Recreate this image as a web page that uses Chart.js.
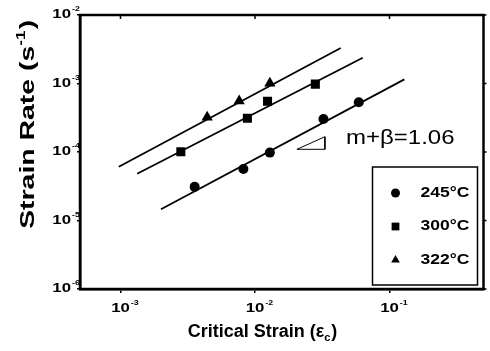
<!DOCTYPE html>
<html lang="en">
<head>
    <meta charset="UTF-8">
    <title>Strain Rate vs Critical Strain</title>
    <script src="https://cdn.jsdelivr.net/npm/chart.js@4.4.1/dist/chart.umd.min.js"></script>
    <style>
        body {
            margin: 0;
            padding: 0;
            background: #ffffff;
        }
        canvas {
            display: block;
        }
    </style>
</head>
<body>
    <canvas id="strainChart" width="490" height="351"></canvas>

    <script>
        // Measured points: critical strain vs strain rate (1/s)
        const temps = ['245°C', '300°C', '322°C'];
        const strain245 = [3.56e-3, 8.2e-3, 1.29e-2, 3.23e-2, 5.91e-2];
        const rate245 = [3.1e-5, 5.65e-5, 9.8e-5, 3.03e-4, 5.32e-4];
        const strain300 = [2.81e-3, 8.78e-3, 1.24e-2, 2.81e-2];
        const rate300 = [1.01e-4, 3.1e-4, 5.5e-4, 9.8e-4];
        const strain322 = [4.41e-3, 7.63e-3, 1.29e-2];
        const rate322 = [3.21e-4, 5.56e-4, 1.01e-3];

        // Fitted lines (end points)
        const fitStrain245 = [2.0e-3, 0.129];
        const fitRate245 = [1.46e-5, 1.15e-3];
        const fitStrain300 = [1.33e-3, 6.33e-2];
        const fitRate300 = [4.82e-5, 2.38e-3];
        const fitStrain322 = [9.72e-4, 4.34e-2];
        const fitRate322 = [6.1e-5, 3.3e-3];

        // Slope marker triangle
        const triStrain = [2.05e-2, 3.31e-2, 3.31e-2, 2.05e-2];
        const triRate = [1.095e-4, 1.67e-4, 1.095e-4, 1.095e-4];
        const slopeText = 'm+β=1.06';
        const slopeAt = [0.0475, 1.31e-4];

        // Axes
        const xTicks = [1e-3, 1e-2, 1e-1];
        const xTickExp = ['-3', '-2', '-1'];
        const yTicks = [1e-6, 1e-5, 1e-4, 1e-3, 1e-2];
        const yTickExp = ['-6', '-5', '-4', '-3', '-2'];
        const xRange = [5e-4, 0.5];
        const yRange = [1e-6, 1e-2];

        const FONT = "'Liberation Sans', Arial, sans-serif";
        const pts = (xs, ys) => xs.map((x, i) => ({ x: x, y: ys[i] }));

        // text squeezed/stretched horizontally
        function drawText(ctx, text, x, y, sx, align) {
            ctx.save();
            ctx.translate(x, y);
            ctx.scale(sx, 1);
            ctx.textAlign = align;
            ctx.fillText(text, 0, 0);
            ctx.restore();
        }

        // "10" with a raised exponent
        function drawPow(ctx, x, y, exp, anchor) {
            const sx = 1.4;
            ctx.font = 'bold 12px ' + FONT;
            ctx.textBaseline = 'middle';
            const w = ctx.measureText('10').width * sx;
            let left = anchor === 'right' ? x - w : x - w / 2;
            drawText(ctx, '10', left, y, sx, 'left');
            ctx.font = 'bold 8px ' + FONT;
            drawText(ctx, exp, left + w + 1, y - 6, 1.1, 'left');
        }

        const framePlugin = {
            id: 'frame',
            afterDraw(chart) {
                const ctx = chart.ctx;
                const a = chart.chartArea;
                const xs = chart.scales.x;
                const ys = chart.scales.y;
                ctx.save();
                ctx.strokeStyle = '#000';
                ctx.fillStyle = '#000';

                // box
                ctx.lineWidth = 2.5;
                ctx.strokeRect(a.left, a.top, a.right - a.left, a.bottom - a.top);

                // mirrored ticks on top and right
                ctx.lineWidth = 1.5;
                ctx.beginPath();
                xTicks.forEach(v => {
                    const px = xs.getPixelForValue(v);
                    ctx.moveTo(px, a.top);
                    ctx.lineTo(px, a.top + 4);
                });
                yTicks.forEach(v => {
                    const py = ys.getPixelForValue(v);
                    ctx.moveTo(a.right, py);
                    ctx.lineTo(a.right + 3, py);
                });
                ctx.stroke();

                // tick labels
                xTicks.forEach((v, i) => drawPow(ctx, xs.getPixelForValue(v), a.bottom + 20, xTickExp[i], 'center'));
                yTicks.forEach((v, i) => drawPow(ctx, a.left - 9, ys.getPixelForValue(v), yTickExp[i], 'right'));

                // x title
                ctx.textBaseline = 'alphabetic';
                ctx.font = 'bold 18px ' + FONT;
                const t1 = 'Critical Strain (ε';
                const w1 = ctx.measureText(t1).width;
                ctx.font = 'bold 11px ' + FONT;
                const w2 = ctx.measureText('c').width;
                ctx.font = 'bold 18px ' + FONT;
                const w3 = ctx.measureText(')').width;
                let xl = 262 - (w1 + w2 + w3) / 2;
                ctx.fillText(t1, xl, 337);
                ctx.font = 'bold 11px ' + FONT;
                ctx.fillText('c', xl + w1, 341);
                ctx.font = 'bold 18px ' + FONT;
                ctx.fillText(')', xl + w1 + w2 + 1, 337);

                // y title, rotated
                ctx.save();
                ctx.translate(34, 125);
                ctx.rotate(-Math.PI / 2);
                ctx.scale(1.42, 1);
                ctx.font = 'bold 20px ' + FONT;
                const s1 = 'Strain Rate (s';
                const v1 = ctx.measureText(s1).width;
                ctx.font = 'bold 12px ' + FONT;
                const v2 = ctx.measureText('-1').width;
                ctx.font = 'bold 20px ' + FONT;
                const v3 = ctx.measureText(')').width;
                let yl = -(v1 + v2 + v3) / 2;
                ctx.fillText(s1, yl, 0);
                ctx.font = 'bold 12px ' + FONT;
                ctx.fillText('-1', yl + v1, -9);
                ctx.font = 'bold 20px ' + FONT;
                ctx.fillText(')', yl + v1 + v2 + 1, 0);
                ctx.restore();

                // slope annotation
                ctx.font = '20px ' + FONT;
                drawText(ctx, slopeText, xs.getPixelForValue(slopeAt[0]), ys.getPixelForValue(slopeAt[1]), 1.2, 'left');

                // legend box inside the plot area
                const lx = a.right - 111, ly = a.top + 152, lw = 105, lh = 118;
                ctx.lineWidth = 1.5;
                ctx.strokeRect(lx, ly, lw, lh);
                const styles = ['circle', 'rect', 'triangle'];
                const radii = [4.5, 5.5, 5];
                ctx.font = 'bold 14px ' + FONT;
                ctx.textBaseline = 'middle';
                temps.forEach((label, i) => {
                    const ry = ly + 26 + i * 33.5;
                    Chart.helpers.drawPoint(ctx, { pointStyle: styles[i], radius: radii[i], rotation: 0, borderWidth: 0 }, lx + 23, ry);
                    drawText(ctx, label, lx + 48, ry, 1.25, 'left');
                });
                ctx.restore();
            }
        };

        const markerBase = {
            backgroundColor: '#000',
            borderColor: '#000',
            borderWidth: 0,
            showLine: false
        };
        const fitBase = {
            showLine: true,
            borderColor: '#000',
            borderWidth: 1.8,
            pointRadius: 0,
            fill: false
        };

        const chartContext = document.getElementById('strainChart').getContext('2d');
        const strainChart = new Chart(chartContext, {
            type: 'scatter',
            data: {
                datasets: [
                    { ...markerBase, label: temps[0], data: pts(strain245, rate245), pointStyle: 'circle', pointRadius: 5 },
                    { ...markerBase, label: temps[1], data: pts(strain300, rate300), pointStyle: 'rect', pointRadius: 6.4 },
                    { ...markerBase, label: temps[2], data: pts(strain322, rate322), pointStyle: 'triangle', pointRadius: 6.5 },
                    { ...fitBase, label: 'fit 245', data: pts(fitStrain245, fitRate245) },
                    { ...fitBase, label: 'fit 300', data: pts(fitStrain300, fitRate300) },
                    { ...fitBase, label: 'fit 322', data: pts(fitStrain322, fitRate322) },
                    { ...fitBase, label: 'slope', data: pts(triStrain, triRate), borderWidth: 1 }
                ]
            },
            options: {
                responsive: false,
                animation: false,
                layout: {
                    padding: { top: 15, right: 2, left: 0, bottom: 0 }
                },
                plugins: {
                    legend: { display: false },
                    tooltip: { enabled: false }
                },
                scales: {
                    x: {
                        type: 'logarithmic',
                        min: xRange[0],
                        max: xRange[1],
                        afterBuildTicks: (s) => { s.ticks = xTicks.map(v => ({ value: v })); },
                        afterFit: (s) => { s.height = 62; },
                        ticks: { display: false },
                        border: { display: true, color: '#000', width: 2.5 },
                        grid: { drawOnChartArea: false, drawTicks: true, tickLength: 4, color: '#000', lineWidth: 1.5 }
                    },
                    y: {
                        type: 'logarithmic',
                        min: yRange[0],
                        max: yRange[1],
                        afterBuildTicks: (s) => { s.ticks = yTicks.map(v => ({ value: v })); },
                        afterFit: (s) => { s.width = 80; },
                        ticks: { display: false },
                        border: { display: true, color: '#000', width: 2.5 },
                        grid: { drawOnChartArea: false, drawTicks: true, tickLength: 3, color: '#000', lineWidth: 1.5 }
                    }
                }
            },
            plugins: [framePlugin]
        });
    </script>
</body>
</html>
